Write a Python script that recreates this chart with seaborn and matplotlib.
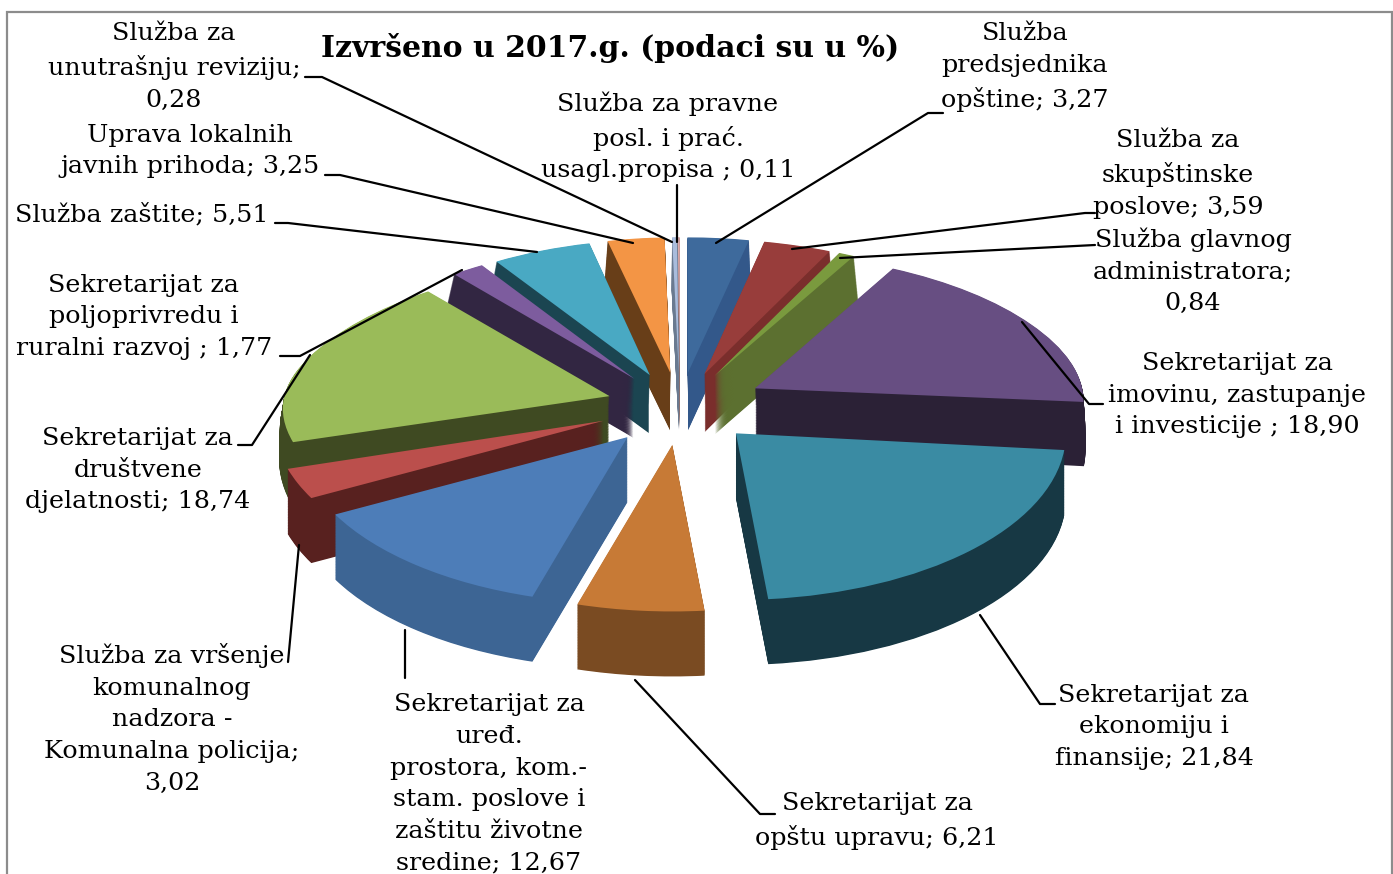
#!/usr/bin/env python3
# -*- coding: utf-8 -*-
import matplotlib
matplotlib.use('Agg')
import matplotlib.pyplot as plt
from matplotlib.lines import Line2D
from matplotlib.patches import Rectangle
from matplotlib.transforms import Transform
import numpy as np
import seaborn as sns

#%% data
names = ['Služba\npredsjednika\nopštine;',
         'Služba za\nskupštinske\nposlove;',
         'Služba glavnog\nadministratora;\n',
         'Sekretarijat za\nimovinu, zastupanje\ni investicije ;',
         'Sekretarijat za\nekonomiju i\nfinansije;',
         'Sekretarijat za\nopštu upravu;',
         'Sekretarijat za\nuređ.\nprostora, kom.-\nstam. poslove i\nzaštitu životne\nsredine;',
         'Služba za vršenje\nkomunalnog\nnadzora -\nKomunalna policija;\n',
         'Sekretarijat za\ndruštvene\ndjelatnosti;',
         'Sekretarijat za\npoljoprivredu i\nruralni razvoj ;',
         'Služba zaštite;',
         'Uprava lokalnih\njavnih prihoda;',
         'Služba za\nunutrašnju reviziju;\n',
         'Služba za pravne\nposl. i prać.\nusagl.propisa ;']
values = [3.27, 3.59, 0.84, 18.90, 21.84, 6.21, 12.67, 3.02, 18.74, 1.77, 5.51, 3.25, 0.28, 0.11]
title = 'Izvršeno u 2017.g. (podaci su u %)'

top_colors = ['#3e6a9c', '#983d3b', '#7a9a3e', '#674e82', '#3a8ba3', '#c77a36', '#4d7db8',
              '#bb4f4c', '#9abb59', '#7d5c9e', '#49a9c3', '#f39545', '#a9bcdc', '#dcaaaa']
side_colors = ['#33588a', '#7a2e2c', '#5c7030', '#2b2136', '#173844', '#7a4b22', '#3d6594',
               '#58211f', '#3f4a22', '#322642', '#1b4551', '#683e18', '#6a7a90', '#8a7070']

#%% label and leader positions, in pixels of the picture
width, height = 1393, 874
label_xy = [(1025, 67), (1178, 174), (1193, 271), (1237, 395), (1154, 727), (877, 821), (489, 784),
            (172, 719), (138, 470), (144, 317), (142, 215), (190, 151), (174, 67), (668, 137)]
leaders = [[(943, 113), (928, 113), (716, 243)],
           [(1095, 213), (1085, 213), (792, 249)],
           [(1095, 245), (840, 258)],
           [(1103, 404), (1089, 404), (1022, 322)],
           [(1055, 704), (1040, 704), (980, 615)],
           [(775, 814), (760, 814), (635, 680)],
           [(405, 630), (405, 678)],
           [(288, 662), (299, 545)],
           [(238, 445), (252, 445), (310, 355)],
           [(280, 356), (300, 356), (462, 270)],
           [(275, 223), (288, 223), (537, 252)],
           [(325, 175), (340, 175), (633, 243)],
           [(305, 77), (322, 77), (672, 242)],
           [(677, 185), (677, 242)]]

def fx(x):
    return x / width

def fy(y):
    return 1 - y / height

class Tilt(Transform):
    # far part of the pie gets narrower, more on the left than on the right
    input_dims = output_dims = 2

    def transform_non_affine(self, xy):
        xy = np.asarray(xy, dtype=float)
        x, y = xy[:, 0], xy[:, 1]
        a = np.where(x < 0, 0.12, 0.07)
        return np.column_stack([x * (1 - a * np.clip(y, 0, None)), y])

#%% figure
sns.set_theme(style='white')
plt.rcParams['font.family'] = ['DejaVu Serif']
fig = plt.figure(figsize=(width / 100, height / 100), dpi=100, facecolor='white')
ax = fig.add_axes([0, 0, 1, 1])

radius_px = 330
cx, cy = 680, 405
k_back, k_front = 0.41, 0.505   # far half of the pie is squashed more than the near half
depth = 0.39
n_layers = 90
explode = [0.24, 0.24, 0.24, 0.26, 0.24, 0.24, 0.25, 0.25, 0.225, 0.24, 0.24, 0.24, 0.24, 0.24]

# slices nearer the viewer are stacked over the far ones
mids = (np.cumsum(values) - np.array(values) / 2) / sum(values) * 2 * np.pi
rank = np.argsort(np.argsort(-np.cos(mids)))
tilt = Tilt()

for i, d in enumerate(np.linspace(depth, 0, n_layers)):
    colors = top_colors if i == n_layers - 1 else side_colors
    wedges, _ = ax.pie(values, colors=colors, explode=explode, startangle=90, counterclock=False,
                       center=(0, -d), radius=1, wedgeprops={'linewidth': 0})
    for w, r in zip(wedges, rank):
        w.set_zorder(2 + r + i / n_layers)
        w.set_transform(tilt + ax.transData)

def squash(y):
    return np.where(y < 0, y * k_front, y * k_back)

def unsquash(y):
    return np.where(y < 0, y / k_front, y / k_back)

ax.set_aspect('auto')
ax.set_yscale('function', functions=(squash, unsquash))
ax.set_xlim(-cx / radius_px, (width - cx) / radius_px)
ax.set_ylim(-(height - cy) / radius_px / k_front, cy / radius_px / k_back)
ax.axis('off')

#%% leaders, labels, title, frame
for pts in leaders:
    xs, ys = zip(*pts)
    fig.add_artist(Line2D([fx(x) for x in xs], [fy(y) for y in ys], color='black', lw=1.6, zorder=30))

for name, val, (x, y) in zip(names, values, label_xy):
    sep = '' if name.endswith('\n') else ' '
    txt = name + sep + f'{val:.2f}'.replace('.', ',')
    fig.text(fx(x), fy(y), txt, ha='center', va='center', fontsize=18.3, color='black',
             linespacing=1.48, zorder=31)

fig.text(fx(610), fy(48), title, ha='center', va='center', fontsize=21.5, weight='bold',
         color='black', zorder=31)

fig.add_artist(Rectangle((fx(7), fy(900)), fx(1385), fy(12) - fy(900), fill=False,
                         edgecolor='#8c8c8c', lw=1.6, zorder=29))

plt.savefig('out.png', dpi=100)
